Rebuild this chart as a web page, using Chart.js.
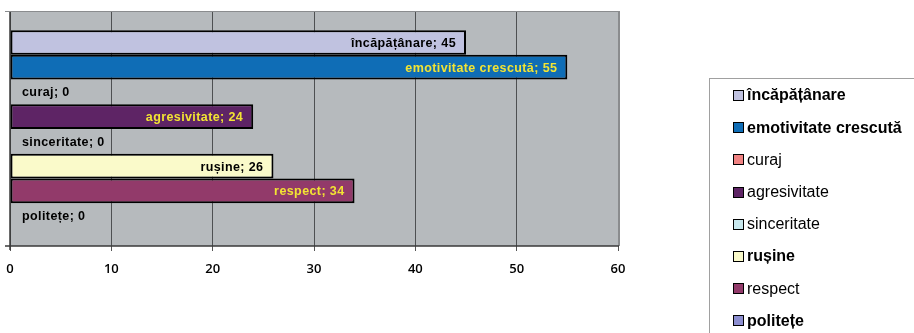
<!DOCTYPE html>
<html>
<head>
<meta charset="utf-8">
<script src="https://cdn.jsdelivr.net/npm/chart.js@4/dist/chart.umd.min.js"></script>
<style>
  html, body { margin: 0; padding: 0; background: #ffffff; }
  #wrap { width: 914px; height: 333px; position: relative; }
</style>
</head>
<body>
<div id="wrap"><canvas id="c" width="914" height="333"></canvas></div>
<script>
// Trăsături și numărul de răspunsuri
const traits = ['încăpățânare', 'emotivitate crescută', 'curaj', 'agresivitate', 'sinceritate', 'rușine', 'respect', 'politețe'];
const counts = [45, 55, 0, 24, 0, 26, 34, 0];
const xTicks = [0, 10, 20, 30, 40, 50, 60];

const fills = ['#c0c2e0', '#0f6db6', '#f08282', '#5e2465', '#c8e8ee', '#fafaca', '#923a6a', '#8c8ed0'];
const labelColors = ['#000000', '#f2e433', '#000000', '#f2e433', '#000000', '#000000', '#f2e433', '#000000'];
const legendWeights = ['bold', 'bold', 'normal', 'normal', 'normal', 'bold', 'normal', 'bold'];

const datasets = traits.map((t, i) => ({
  label: t,
  data: [counts[i]],
  backgroundColor: fills[i],
  borderColor: '#000000',
  borderWidth: 2,
  borderSkipped: false,
  categoryPercentage: 0.845,
  barPercentage: 1.0
}));

// Fundalul zonei de desen și chenarul ei
const plotFrame = {
  id: 'plotFrame',
  beforeDraw(chart) {
    const { ctx, chartArea: a } = chart;
    ctx.save();
    ctx.fillStyle = '#b6babd';
    ctx.fillRect(a.left, a.top, a.right - a.left, a.bottom - a.top);
    ctx.restore();
  },
  afterDraw(chart) {
    const { ctx, chartArea: a } = chart;
    ctx.save();
    ctx.strokeStyle = '#8a8c8e';
    ctx.lineWidth = 1;
    ctx.beginPath();
    ctx.moveTo(a.left - 5, a.top - 0.5);
    ctx.lineTo(a.right + 1, a.top - 0.5);
    ctx.stroke();
    ctx.lineWidth = 2;
    ctx.beginPath();
    ctx.moveTo(a.right + 1, a.top - 1);
    ctx.lineTo(a.right + 1, a.bottom);
    ctx.stroke();
    ctx.strokeStyle = '#3a3a3a';
    ctx.lineWidth = 1.5;
    ctx.beginPath();
    ctx.moveTo(a.left - 5, a.bottom);
    ctx.lineTo(a.right + 1, a.bottom);
    ctx.moveTo(a.left, a.top);
    ctx.lineTo(a.left, a.bottom + 4);
    ctx.stroke();
    ctx.restore();
  }
};

// Etichetele „nume; valoare” din interiorul barelor
const barLabels = {
  id: 'barLabels',
  afterDatasetsDraw(chart) {
    const { ctx } = chart;
    ctx.save();
    ctx.font = 'bold 12.5px "Liberation Sans", Arial, sans-serif';
    ctx.letterSpacing = '0.4px';
    ctx.textBaseline = 'middle';
    chart.data.datasets.forEach((ds, i) => {
      const el = chart.getDatasetMeta(i).data[0];
      const v = ds.data[0];
      const text = ds.label + '; ' + v;
      ctx.fillStyle = labelColors[i];
      if (v > 0) {
        ctx.textAlign = 'right';
        ctx.fillText(text, el.x - 10, el.y + 1);
      } else {
        ctx.textAlign = 'left';
        ctx.fillText(text, el.base + 12, el.y + 1);
      }
    });
    ctx.restore();
  }
};

// Legenda din dreapta
const sideLegend = {
  id: 'sideLegend',
  afterDraw(chart) {
    const { ctx } = chart;
    ctx.save();
    ctx.strokeStyle = '#a0a0a0';
    ctx.lineWidth = 1;
    ctx.strokeRect(709.5, 78.5, 220, 270);
    ctx.textBaseline = 'middle';
    ctx.textAlign = 'left';
    chart.data.datasets.forEach((ds, i) => {
      const cy = 95 + i * 32.2;
      ctx.fillStyle = ds.backgroundColor;
      ctx.fillRect(733, Math.round(cy - 5), 11, 11);
      ctx.strokeStyle = '#000000';
      ctx.lineWidth = 1;
      ctx.strokeRect(733.5, Math.round(cy - 5) + 0.5, 10, 10);
      ctx.fillStyle = '#000000';
      ctx.font = legendWeights[i] + ' 16px "Liberation Sans", Arial, sans-serif';
      ctx.fillText(ds.label, 747, cy + 1);
    });
    ctx.restore();
  }
};

new Chart(document.getElementById('c'), {
  type: 'bar',
  data: { labels: [''], datasets },
  options: {
    indexAxis: 'y',
    responsive: false,
    animation: false,
    layout: { padding: { left: 10, right: 296, top: 12, bottom: 47 } },
    plugins: { legend: { display: false }, tooltip: { enabled: false } },
    scales: {
      y: { display: false },
      x: {
        min: 0,
        max: 60,
        afterBuildTicks(scale) { scale.ticks = xTicks.map(v => ({ value: v })); },
        afterFit(scale) { scale.height = 40; scale.paddingLeft = 0; scale.paddingRight = 0; },
        grid: { color: '#4e5052', lineWidth: 1, tickLength: 5, drawTicks: true, tickColor: '#555555' },
        border: { display: false },
        ticks: {
          color: '#000000',
          padding: 10,
          maxRotation: 0,
          font: { family: '"Open Sans", "DejaVu Sans", sans-serif', size: 13, weight: '600' }
        }
      }
    }
  },
  plugins: [plotFrame, barLabels, sideLegend]
});
</script>
</body>
</html>
